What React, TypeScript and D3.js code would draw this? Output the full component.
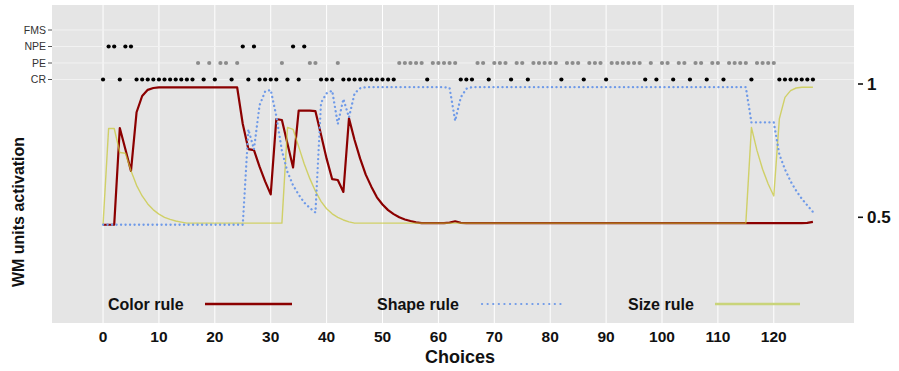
import React from 'react';
import * as d3 from 'd3';

const rowLabels = ['CR', 'PE', 'NPE', 'FMS'];

const crTrials = [0, 3, 6, 7, 8, 9, 10, 11, 12, 13, 14, 15, 16, 18, 20, 23, 26, 28, 29, 30, 31, 33, 35, 39, 40, 41,
  43, 44, 45, 46, 47, 48, 49, 50, 51, 52, 58, 64, 65, 66, 69, 73, 76, 82, 86, 90, 97, 99, 102, 105, 108, 111, 116,
  121, 122, 123, 124, 125, 126, 127];
const npeTrials = [1, 2, 4, 5, 25, 27, 34, 36];
const peTrials = [17, 19, 21, 22, 24, 32, 37, 38, 42, 53, 54, 55, 56, 57, 59, 60, 61, 62, 63, 67, 68, 70, 71, 72, 74,
  75, 77, 78, 79, 80, 81, 83, 84, 85, 87, 88, 89, 91, 92, 93, 94, 95, 96, 98, 100, 101, 103, 104, 106, 107, 109, 110,
  112, 113, 114, 115, 117, 118, 119, 120];
const fmsTrials: number[] = [];

const colorRule = [
  0.472, 0.472, 0.472, 0.835, 0.755, 0.674, 0.894, 0.955, 0.978, 0.985,
  0.987, 0.987, 0.987, 0.987, 0.987, 0.987, 0.987, 0.987, 0.987, 0.987,
  0.987, 0.987, 0.987, 0.987, 0.987, 0.85, 0.756, 0.752, 0.69, 0.635,
  0.586, 0.868, 0.865, 0.776, 0.687, 0.9, 0.9, 0.9, 0.898, 0.81,
  0.72, 0.643, 0.64, 0.595, 0.871, 0.79, 0.72, 0.66, 0.615, 0.575,
  0.548, 0.527, 0.512, 0.5, 0.492, 0.486, 0.481, 0.478, 0.478, 0.478,
  0.478, 0.478, 0.48, 0.485, 0.479, 0.478, 0.478, 0.478, 0.478, 0.478,
  0.478, 0.478, 0.478, 0.478, 0.478, 0.478, 0.478, 0.478, 0.478, 0.478,
  0.478, 0.478, 0.478, 0.478, 0.478, 0.478, 0.478, 0.478, 0.478, 0.478,
  0.478, 0.478, 0.478, 0.478, 0.478, 0.478, 0.478, 0.478, 0.478, 0.478,
  0.478, 0.478, 0.478, 0.478, 0.478, 0.478, 0.478, 0.478, 0.478, 0.478,
  0.478, 0.478, 0.478, 0.478, 0.478, 0.478, 0.478, 0.478, 0.478, 0.478,
  0.478, 0.478, 0.478, 0.478, 0.478, 0.478, 0.479, 0.483,
];

const shapeRule = [
  0.472, 0.472, 0.472, 0.472, 0.472, 0.472, 0.472, 0.472, 0.472, 0.472,
  0.472, 0.472, 0.472, 0.472, 0.472, 0.472, 0.472, 0.472, 0.472, 0.472,
  0.472, 0.472, 0.472, 0.472, 0.472, 0.472, 0.83, 0.755, 0.92, 0.972,
  0.978, 0.88, 0.75, 0.67, 0.62, 0.585, 0.555, 0.535, 0.518, 0.93,
  0.965, 0.975, 0.85, 0.944, 0.875, 0.965, 0.984, 0.988, 0.988, 0.988,
  0.988, 0.988, 0.988, 0.988, 0.988, 0.988, 0.988, 0.988, 0.988, 0.988,
  0.988, 0.988, 0.985, 0.862, 0.95, 0.982, 0.988, 0.988, 0.988, 0.988,
  0.988, 0.988, 0.988, 0.988, 0.988, 0.988, 0.988, 0.988, 0.988, 0.988,
  0.988, 0.988, 0.988, 0.988, 0.988, 0.988, 0.988, 0.988, 0.988, 0.988,
  0.988, 0.988, 0.988, 0.988, 0.988, 0.988, 0.988, 0.988, 0.988, 0.988,
  0.988, 0.988, 0.988, 0.988, 0.988, 0.988, 0.988, 0.988, 0.988, 0.988,
  0.988, 0.988, 0.988, 0.988, 0.988, 0.988, 0.856, 0.856, 0.856, 0.856,
  0.856, 0.735, 0.68, 0.635, 0.6, 0.57, 0.545, 0.52,
];

const sizeRule = [
  0.472, 0.833, 0.833, 0.743, 0.74, 0.675, 0.62, 0.58, 0.55, 0.528,
  0.512, 0.5, 0.492, 0.486, 0.482, 0.478, 0.478, 0.478, 0.478, 0.478,
  0.478, 0.478, 0.478, 0.478, 0.478, 0.478, 0.478, 0.478, 0.478, 0.478,
  0.478, 0.478, 0.478, 0.837, 0.83, 0.765, 0.7, 0.645, 0.598, 0.56,
  0.532, 0.513, 0.5, 0.49, 0.483, 0.478, 0.478, 0.478, 0.478, 0.478,
  0.478, 0.478, 0.478, 0.478, 0.478, 0.478, 0.478, 0.478, 0.478, 0.478,
  0.478, 0.478, 0.478, 0.478, 0.478, 0.478, 0.478, 0.478, 0.478, 0.478,
  0.478, 0.478, 0.478, 0.478, 0.478, 0.478, 0.478, 0.478, 0.478, 0.478,
  0.478, 0.478, 0.478, 0.478, 0.478, 0.478, 0.478, 0.478, 0.478, 0.478,
  0.478, 0.478, 0.478, 0.478, 0.478, 0.478, 0.478, 0.478, 0.478, 0.478,
  0.478, 0.478, 0.478, 0.478, 0.478, 0.478, 0.478, 0.478, 0.478, 0.478,
  0.478, 0.478, 0.478, 0.478, 0.478, 0.478, 0.837, 0.75, 0.68, 0.625,
  0.58, 0.87, 0.95, 0.975, 0.985, 0.988, 0.988, 0.988,
];

const xTicks = [0, 10, 20, 30, 40, 50, 60, 70, 80, 90, 100, 110, 120];
const yTicks = [0.5, 1];
const legendLabels = ['Color rule', 'Shape rule', 'Size rule'];

const W = 899;
const H = 371;
const PANEL = { left: 52, top: 5, right: 854, bottom: 323 };
const NARROW = "'Liberation Sans Narrow', 'Arial Narrow', 'Liberation Sans', Arial, sans-serif";
const RED = '#8b0000';
const BLUE = '#6f9ae8';
const YELLOW = '#c8c83c';

export default function App() {
  const x = d3.scaleLinear().domain([-9.13, 134.35]).range([PANEL.left, PANEL.right]);
  const y = d3.scaleLinear().domain([0.5, 1]).range([217.3, 84]);
  const rowY = d3.scalePoint<string>().domain(rowLabels).range([79.5, 30]);

  const line = d3
    .line<number>()
    .x((_, i) => x(i))
    .y((d) => y(d));

  const outcomeRows: { label: string; trials: number[]; color: string }[] = [
    { label: 'CR', trials: crTrials, color: '#000' },
    { label: 'PE', trials: peTrials, color: '#8c8c8c' },
    { label: 'NPE', trials: npeTrials, color: '#000' },
    { label: 'FMS', trials: fmsTrials, color: '#000' },
  ];

  const legendX = [108, 377, 628];
  const legendLine = [
    [205, 292],
    [482, 562],
    [715, 800],
  ];
  const legendY = 304;

  return (
    <svg
      width={W}
      height={H}
      style={{ position: 'absolute', left: 0, top: 0, background: '#fff' }}
      fontFamily={NARROW}
    >
      <rect x={PANEL.left} y={PANEL.top} width={PANEL.right - PANEL.left} height={PANEL.bottom - PANEL.top} fill="#e5e5e5" />
      {xTicks.map((t) => (
        <line key={'gx' + t} x1={x(t)} x2={x(t)} y1={PANEL.top} y2={PANEL.bottom} stroke="#fff" strokeWidth={1} />
      ))}
      {rowLabels.map((r) => (
        <line key={'gy' + r} x1={PANEL.left} x2={PANEL.right} y1={rowY(r)} y2={rowY(r)} stroke="#f2f2f2" strokeWidth={1} />
      ))}

      {outcomeRows.map((row) =>
        row.trials.map((t) => (
          <circle key={row.label + t} cx={x(t)} cy={rowY(row.label)} r={2.1} fill={row.color} />
        ))
      )}

      <path d={line(colorRule) || ''} fill="none" stroke={RED} strokeWidth={2.2} strokeLinejoin="round" />
      <path d={line(sizeRule) || ''} fill="none" stroke={YELLOW} strokeWidth={1.4} strokeOpacity={0.75} strokeLinejoin="round" />
      <path
        d={line(shapeRule) || ''}
        fill="none"
        stroke={BLUE}
        strokeWidth={2.3}
        strokeDasharray="0.1 4.4"
        strokeLinecap="round"
        strokeLinejoin="round"
      />

      {/* left row axis */}
      {rowLabels.map((r) => (
        <g key={'ly' + r}>
          <line x1={PANEL.left - 4} x2={PANEL.left} y1={rowY(r)} y2={rowY(r)} stroke="#555" strokeWidth={1} />
          <text x={PANEL.left - 6} y={rowY(r)} dy="0.35em" textAnchor="end" fontSize={10.5} fill="#333" fontFamily="'Liberation Sans', Arial, sans-serif">
            {r}
          </text>
        </g>
      ))}

      {/* right value axis */}
      {yTicks.map((v) => (
        <g key={'ry' + v}>
          <line x1={PANEL.right + 4} x2={PANEL.right + 9} y1={y(v)} y2={y(v)} stroke="#111" strokeWidth={1.6} />
          <text x={PANEL.right + 13} y={y(v)} dy="0.36em" fontSize={17} fontWeight="bold" fill="#111">
            {v}
          </text>
        </g>
      ))}

      {/* x axis */}
      {xTicks.map((t) => (
        <text key={'xt' + t} x={x(t)} y={342} textAnchor="middle" fontSize={15.5} fontWeight="bold" fill="#111">
          {t}
        </text>
      ))}
      <text x={(PANEL.left + PANEL.right) / 2 + 7} y={363} textAnchor="middle" fontSize={18} fontWeight="bold" fill="#111">
        Choices
      </text>
      <text
        transform={`translate(24, ${212}) rotate(-90)`}
        textAnchor="middle"
        fontSize={16}
        fontWeight="bold"
        fill="#111"
      >
        WM units activation
      </text>

      {/* legend */}
      {legendLabels.map((lab, i) => (
        <text key={'lg' + lab} x={legendX[i]} y={legendY} dy="0.35em" fontSize={16} fontWeight="bold" fill="#111">
          {lab}
        </text>
      ))}
      <line x1={legendLine[0][0]} x2={legendLine[0][1]} y1={legendY} y2={legendY} stroke={RED} strokeWidth={2.4} />
      <line
        x1={legendLine[1][0]}
        x2={legendLine[1][1]}
        y1={legendY}
        y2={legendY}
        stroke={BLUE}
        strokeWidth={2.2}
        strokeDasharray="0.1 5.5"
        strokeLinecap="round"
      />
      <line x1={legendLine[2][0]} x2={legendLine[2][1]} y1={legendY} y2={legendY} stroke="#c9d47a" strokeWidth={2.4} />
    </svg>
  );
}
